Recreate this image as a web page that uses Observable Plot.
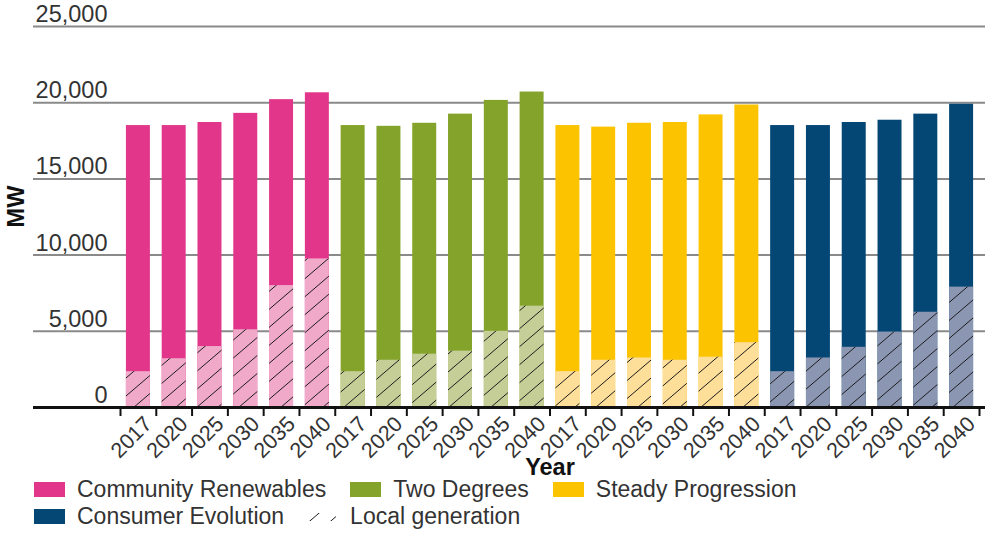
<!DOCTYPE html>
<html>
<head>
<meta charset="utf-8">
<script src="https://cdn.jsdelivr.net/npm/d3@7"></script>
<script src="https://cdn.jsdelivr.net/npm/@observablehq/plot@0.6"></script>
<style>
  html, body { margin: 0; padding: 0; background: #fff; }
  body { width: 989px; height: 533px; overflow: hidden; font-family: "Liberation Sans", Arial, sans-serif; }
  #chart svg { display: block; overflow: visible; }
  .legend { position: relative; margin-left: 34px; color: #333; font-size: 23px; }
  .row { display: flex; align-items: center; height: 27px; white-space: nowrap; }
  .item { display: flex; align-items: center; margin-right: 24px; }
  .sw { width: 31px; height: 15px; margin-right: 12px; }
  .hsw { margin-right: 14px; margin-left: -8px; }
</style>
</head>
<body>
<div id="chart"></div>
<div class="legend" id="legend"></div>
<script>
const scenarios = ["Community Renewables", "Two Degrees", "Steady Progression", "Consumer Evolution"];
const years = ["2017", "2020", "2025", "2030", "2035", "2040"];
const totalCR = [18500, 18500, 18700, 19300, 20200, 20650];
const localCR = [2350, 3200, 4000, 5100, 8000, 9750];
const totalTD = [18500, 18450, 18650, 19250, 20150, 20700];
const localTD = [2350, 3100, 3500, 3700, 5000, 6650];
const totalSP = [18500, 18400, 18650, 18700, 19200, 19850];
const localSP = [2350, 3100, 3250, 3100, 3300, 4250];
const totalCE = [18500, 18500, 18700, 18850, 19250, 19900];
const localCE = [2350, 3250, 3950, 4950, 6250, 7900];
const yTicks = [0, 5000, 10000, 15000, 20000, 25000];
const darkColors = ["#E2368B", "#84A32A", "#FBC300", "#044674"];
const lightColors = ["#F0A9C9", "#C5CE97", "#FEDF9A", "#8A96B2"];

const totals = [totalCR, totalTD, totalSP, totalCE];
const locals = [localCR, localTD, localSP, localCE];
const data = [];
scenarios.forEach((s, i) => years.forEach((y, j) => data.push({
  key: s + "|" + y, scenario: s, year: y, total: totals[i][j], local: locals[i][j]
})));
const keys = data.map(d => d.key);

const W = 989, H = 476;
const mL = 33, mR = 4, mT = 26, axisY0 = 407;
const xRange = [120, 979];
const step = (xRange[1] - xRange[0]) / keys.length;
const frameMid = (mL + W - mR) / 2;
const frameMidY = (mT + axisY0) / 2;
const bandMid = (xRange[0] + xRange[1]) / 2;
const font = "Liberation Sans, Arial, sans-serif";
const hatchPath = '<path d="M0,18 L21,0 M-21,18 L0,0 M21,18 L42,0 M-1,19 L1,17 M20,1 L22,-1" stroke="#1b1b1b" stroke-width="1"/>';

const chart = Plot.plot({
  width: W,
  height: H,
  marginLeft: mL,
  marginRight: mR,
  marginTop: mT,
  marginBottom: H - axisY0,
  style: { fontFamily: font, background: "transparent", overflow: "visible" },
  x: { type: "band", domain: keys, range: xRange, paddingInner: 0.33, paddingOuter: 0.165, round: false },
  y: { domain: [0, 25000] },
  color: { domain: scenarios, range: darkColors },
  marks: [
    Plot.ruleY(yTicks.filter(d => d > 0), { stroke: "#8a8a8a", strokeWidth: 2 }),
    Plot.barY(data, { x: "key", y: "total", fill: "scenario" }),
    Plot.barY(data, { x: "key", y: "local", fill: d => lightColors[scenarios.indexOf(d.scenario)] }),
    Plot.barY(data, { x: "key", y: "local", fill: "url(#hatch)" }),
    Plot.ruleY([0], { stroke: "#111", strokeWidth: 3 }),
    Plot.axisY({ ticks: yTicks, tickSize: 0, tickPadding: 0, dx: 74, dy: -12, tickFormat: d3.format(","),
      fontSize: 23.5, color: "#333", label: null }),
    Plot.axisX({ ticks: keys, tickSize: 9, tickFormat: () => "", dx: -step / 2, stroke: "#111", strokeWidth: 2, label: null }),
    Plot.axisX({ ticks: [keys[keys.length - 1]], tickSize: 9, tickFormat: () => "", dx: step / 2, stroke: "#111", strokeWidth: 2, label: null }),
    Plot.axisX({ ticks: keys, tickSize: 0, tickPadding: 13, tickRotate: -45, dx: 10,
      tickFormat: k => k.split("|")[1], fontSize: 21.5, color: "#333", label: null }),
    Plot.text(["Year"], { frameAnchor: "middle", dx: bandMid - frameMid, dy: 467 - frameMidY,
      fontSize: 23.5, fontWeight: "bold", fill: "#111" }),
    Plot.text(["MW"], { frameAnchor: "middle", rotate: -90, dx: 16 - frameMid, dy: 206 - frameMidY,
      fontSize: 23.5, fontWeight: "bold", fill: "#111" })
  ]
});

// hatch pattern
const ns = "http://www.w3.org/2000/svg";
const defs = document.createElementNS(ns, "defs");
defs.innerHTML = '<pattern id="hatch" patternUnits="userSpaceOnUse" width="21" height="18">' + hatchPath + '</pattern>';
chart.insertBefore(defs, chart.firstChild);
document.getElementById("chart").appendChild(chart);

// legend
const legend = document.getElementById("legend");
const rows = [[0, 1, 2], [3, "local"]];
rows.forEach(r => {
  const row = document.createElement("div");
  row.className = "row";
  r.forEach(i => {
    const item = document.createElement("div");
    item.className = "item";
    if (i === "local") {
      item.innerHTML = '<svg class="hsw" width="36" height="15"><defs><pattern id="hatchL" patternUnits="userSpaceOnUse" width="21" height="18" x="4" y="-1">' +
        hatchPath + '</pattern></defs>' +
        '<rect x="4" y="4" width="32" height="8" fill="url(#hatchL)"/></svg><span>Local generation</span>';
    } else {
      item.innerHTML = '<div class="sw" style="background:' + darkColors[i] + '"></div><span>' + scenarios[i] + '</span>';
    }
    row.appendChild(item);
  });
  legend.appendChild(row);
});
</script>
</body>
</html>
